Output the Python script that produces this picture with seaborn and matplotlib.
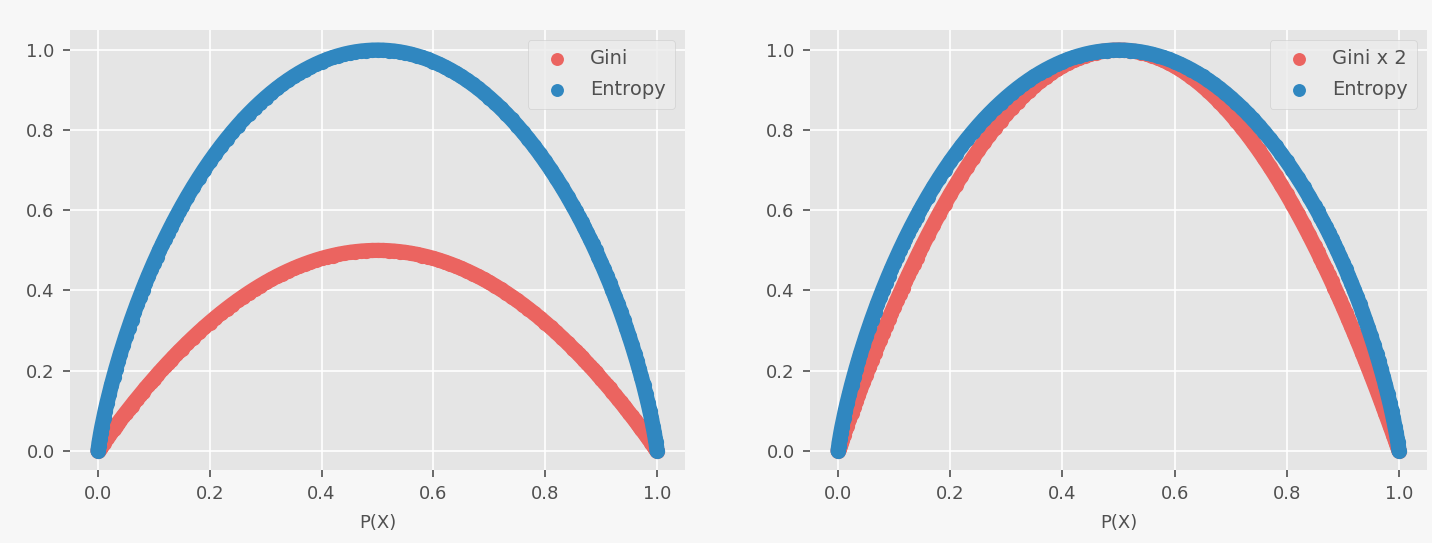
import matplotlib
matplotlib.use("Agg")
import matplotlib.pyplot as plt
import seaborn as sns
import pandas as pd

p_x = [0.0, 0.001, 0.002, 0.003, 0.005, 0.007, 0.01, 0.013, 0.016, 0.02, 0.024, 0.028, 0.032, 0.036,
       0.04, 0.045, 0.05, 0.055, 0.06, 0.065, 0.07, 0.075, 0.08, 0.085, 0.09, 0.095, 0.10, 0.105, 0.11,
       0.115, 0.12, 0.125, 0.13, 0.135, 0.14, 0.145, 0.15, 0.16, 0.17, 0.18, 0.19, 0.20, 0.21, 0.22,
       0.23, 0.24, 0.25, 0.26, 0.27, 0.28, 0.29, 0.30, 0.31, 0.32, 0.33, 0.34, 0.35, 0.36, 0.37, 0.38,
       0.39, 0.40, 0.41, 0.42, 0.43, 0.44, 0.45, 0.46, 0.47, 0.48, 0.49, 0.50,
       0.51, 0.52, 0.53, 0.54, 0.55, 0.56, 0.57, 0.58, 0.59, 0.60, 0.61, 0.62, 0.63, 0.64, 0.65, 0.66,
       0.67, 0.68, 0.69, 0.70, 0.71, 0.72, 0.73, 0.74, 0.75, 0.76, 0.77, 0.78, 0.79, 0.80, 0.81, 0.82,
       0.83, 0.84, 0.85, 0.855, 0.86, 0.865, 0.87, 0.875, 0.88, 0.885, 0.89, 0.895, 0.90, 0.905, 0.91,
       0.915, 0.92, 0.925, 0.93, 0.935, 0.94, 0.945, 0.95, 0.955, 0.96, 0.964, 0.968, 0.972, 0.976,
       0.98, 0.984, 0.987, 0.99, 0.993, 0.995, 0.997, 0.998, 0.999, 1.0]

gini = [0.0, 0.002, 0.004, 0.006, 0.00995, 0.0139, 0.0198, 0.0257, 0.0315, 0.0392, 0.0468, 0.0544,
        0.0620, 0.0694, 0.0768, 0.0860, 0.0950, 0.1040, 0.1128, 0.1216, 0.1302, 0.1388, 0.1472, 0.1556,
        0.1638, 0.1720, 0.1800, 0.1880, 0.1958, 0.2036, 0.2112, 0.2188, 0.2262, 0.2336, 0.2408, 0.2480,
        0.2550, 0.2688, 0.2822, 0.2952, 0.3078, 0.3200, 0.3318, 0.3432, 0.3542, 0.3648, 0.3750, 0.3848,
        0.3942, 0.4032, 0.4118, 0.4200, 0.4278, 0.4352, 0.4422, 0.4488, 0.4550, 0.4608, 0.4662, 0.4712,
        0.4758, 0.4800, 0.4838, 0.4872, 0.4902, 0.4928, 0.4950, 0.4968, 0.4982, 0.4992, 0.4998, 0.5,
        0.4998, 0.4992, 0.4982, 0.4968, 0.4950, 0.4928, 0.4902, 0.4872, 0.4838, 0.4800, 0.4758, 0.4712,
        0.4662, 0.4608, 0.4550, 0.4488, 0.4422, 0.4352, 0.4278, 0.4200, 0.4118, 0.4032, 0.3942, 0.3848,
        0.3750, 0.3648, 0.3542, 0.3432, 0.3318, 0.3200, 0.3078, 0.2952, 0.2822, 0.2688, 0.2550, 0.2480,
        0.2408, 0.2336, 0.2262, 0.2188, 0.2112, 0.2036, 0.1958, 0.1880, 0.1800, 0.1720, 0.1638, 0.1556,
        0.1472, 0.1388, 0.1302, 0.1216, 0.1128, 0.1040, 0.0950, 0.0860, 0.0768, 0.0694, 0.0620, 0.0544,
        0.0468, 0.0392, 0.0315, 0.0257, 0.0198, 0.0139, 0.00995, 0.006, 0.004, 0.002, 0.0]

entropy = [0.0, 0.0114, 0.0208, 0.0295, 0.0454, 0.0602, 0.0808, 0.1001, 0.1184, 0.1414, 0.1634, 0.1843,
           0.2043, 0.2236, 0.2423, 0.2648, 0.2864, 0.3073, 0.3274, 0.3470, 0.3659, 0.3843, 0.4022, 0.4196,
           0.4365, 0.4529, 0.4690, 0.4847, 0.4999, 0.5148, 0.5294, 0.5436, 0.5574, 0.5710, 0.5842, 0.5972,
           0.6098, 0.6343, 0.6577, 0.6801, 0.7015, 0.7219, 0.7415, 0.7602, 0.7780, 0.7950, 0.8113, 0.8268,
           0.8415, 0.8555, 0.8687, 0.8813, 0.8932, 0.9044, 0.9149, 0.9248, 0.9341, 0.9427, 0.9507, 0.9580,
           0.9648, 0.9710, 0.9765, 0.9815, 0.9858, 0.9896, 0.9928, 0.9954, 0.9974, 0.9988, 0.9997, 1.0,
           0.9997, 0.9988, 0.9974, 0.9954, 0.9928, 0.9896, 0.9858, 0.9815, 0.9765, 0.9710, 0.9648, 0.9580,
           0.9507, 0.9427, 0.9341, 0.9248, 0.9149, 0.9044, 0.8932, 0.8813, 0.8687, 0.8555, 0.8415, 0.8268,
           0.8113, 0.7950, 0.7780, 0.7602, 0.7415, 0.7219, 0.7015, 0.6801, 0.6577, 0.6343, 0.6098, 0.5972,
           0.5842, 0.5710, 0.5574, 0.5436, 0.5294, 0.5148, 0.4999, 0.4847, 0.4690, 0.4529, 0.4365, 0.4196,
           0.4022, 0.3843, 0.3659, 0.3470, 0.3274, 0.3073, 0.2864, 0.2648, 0.2423, 0.2236, 0.2043, 0.1843,
           0.1634, 0.1414, 0.1184, 0.1001, 0.0808, 0.0602, 0.0454, 0.0295, 0.0208, 0.0114, 0.0]

gini_x2 = [2 * g for g in gini]  # the right panel's "Gini x 2" series

x_label = "P(X)"
yticks = [0.0, 0.2, 0.4, 0.6, 0.8, 1.0]
xticks = [0.0, 0.2, 0.4, 0.6, 0.8, 1.0]

RED = "#EB6460"
BLUE = "#3087C0"
TXT = "#505050"
FS = 13
LFS = 14
S = 120
LW = S ** 0.5  # band width (pt) equal to marker diameter

plt.style.use("ggplot")
plt.rcParams["font.family"] = ["DejaVu Sans"]

df = pd.DataFrame({"p": p_x, "gini": gini, "gini2": gini_x2, "entropy": entropy})

fig = plt.figure(figsize=(14.32, 5.43), dpi=100, facecolor="#F7F7F7")
ax1 = fig.add_axes([70 / 1432, 73 / 543, 615 / 1432, 440 / 543])
ax2 = fig.add_axes([810 / 1432, 73 / 543, 617 / 1432, 440 / 543])

panels = [(ax1, "gini", "Gini"), (ax2, "gini2", "Gini x 2")]
for ax, col, lab in panels:
    for ycol, c, name, z in [(col, RED, lab, 2), ("entropy", BLUE, "Entropy", 4)]:
        sns.lineplot(data=df, x="p", y=ycol, ax=ax, color=c, linewidth=LW, sort=False,
                     estimator=None, legend=False, zorder=z,
                     solid_capstyle="round", solid_joinstyle="round")
        sns.scatterplot(data=df, x="p", y=ycol, ax=ax, color=c, s=S, linewidth=0,
                        label=name, zorder=z + 0.5)
    ax.set_facecolor("#E5E5E5")
    ax.set_xlim(-0.05, 1.05)
    ax.set_ylim(-0.048, 1.05)
    ax.set_xticks(xticks)
    ax.set_yticks(yticks)
    ax.set_xticklabels([f"{v:.1f}" for v in xticks])
    ax.set_yticklabels([f"{v:.1f}" for v in yticks])
    ax.tick_params(axis="both", colors=TXT, labelsize=FS, labelcolor=TXT, length=5, width=1.2, pad=6)
    ax.set_xlabel(x_label, fontsize=FS, color=TXT, labelpad=8)
    ax.set_ylabel("")
    ax.grid(True, color="white", linewidth=1.2)
    for sp in ax.spines.values():
        sp.set_visible(False)
    leg = ax.legend(loc="upper right", fontsize=LFS, frameon=True, markerscale=0.85,
                    handletextpad=0.7, borderpad=0.5, labelspacing=0.6)
    leg.get_frame().set_facecolor("#ECECEC")
    leg.get_frame().set_edgecolor("#CCCCCC")
    for t in leg.get_texts():
        t.set_color(TXT)

fig.savefig("out.png", dpi=100, facecolor=fig.get_facecolor())
